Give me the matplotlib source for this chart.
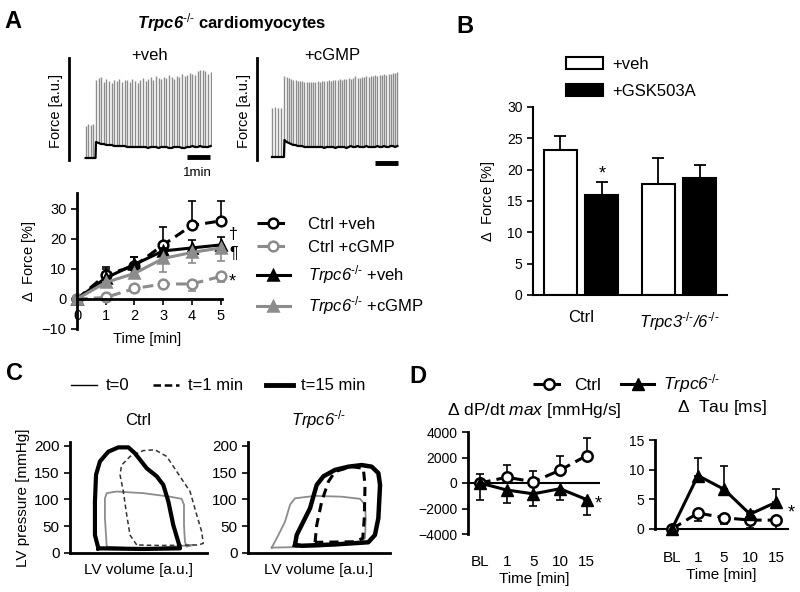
import numpy as np
import matplotlib
matplotlib.use("Agg")
import matplotlib.pyplot as plt
from matplotlib.lines import Line2D
from matplotlib.patches import Patch

plt.rcParams['font.family'] = 'Liberation Sans'
plt.rcParams['mathtext.fontset'] = 'custom'
plt.rcParams['mathtext.rm'] = 'Liberation Sans'
plt.rcParams['mathtext.it'] = 'Liberation Sans:italic'
plt.rcParams['mathtext.sf'] = 'Liberation Sans:italic'
plt.rcParams['mathtext.bf'] = 'Liberation Sans:bold'
plt.rcParams['mathtext.bfit'] = 'Liberation Sans:bold:italic'

GRAY = '#8c8c8c'

# ---- data -------------------------------------------------------------
# A, force traces (a.u.), paced beats
veh_pre_t = [0.04, 0.14, 0.26, 0.36]
veh_pre_peaks = [34, 36, 35, 36]
veh_pre_base = 2
veh_t0, veh_dt = 0.47, 0.113
veh_peaks = [80, 82, 83, 78, 81, 79, 77, 80, 79, 81, 78, 80, 80, 78, 81,
             79, 77, 80, 82, 79, 81, 83, 80, 84, 82, 81, 83, 82, 85, 83,
             81, 84, 83, 86, 84, 85, 87, 86, 85, 89, 90, 90, 89, 86, 88]
veh_base = [18, 17, 16, 16, 15, 15, 15, 14, 14, 14, 14, 14, 13, 13, 13,
            13, 13, 13, 13, 13, 12, 13, 13, 13, 12, 13, 13, 13, 12, 12,
            13, 13, 13, 12, 12, 13, 13, 14, 13, 13, 14, 13, 13, 13, 14]

cgmp_pre_t = [-0.03, 0.08, 0.2, 0.32]
cgmp_pre_peaks = [52, 53, 52, 52]
cgmp_pre_base = 3
cgmp_t0, cgmp_dt = 0.49, 0.096
cgmp_peaks = [84, 83, 82, 81, 80, 80, 79, 79, 79, 78, 78, 78, 78, 78, 78,
              79, 78, 79, 79, 79, 80, 79, 80, 80, 80, 81, 80, 81, 81, 82,
              81, 82, 84, 82, 82, 83, 83, 84, 83, 84, 84, 85, 84, 85, 85,
              86, 85, 86, 86, 87, 87, 88]
cgmp_base = [20, 18, 17, 16, 15, 15, 14, 14, 14, 13, 13, 13, 13, 13, 13,
             13, 13, 13, 12, 13, 13, 13, 13, 12, 13, 13, 13, 13, 12, 13,
             14, 13, 13, 14, 13, 13, 13, 14, 13, 13, 13, 13, 14, 13, 13,
             14, 13, 13, 14, 14, 13, 14]

# A, delta force over time
time_min = [0, 1, 2, 3, 4, 5]
ctrl_veh = [0, 8, 11, 18, 24.5, 26]
ctrl_veh_sem = [0, 2.5, 3, 6, 8, 6.5]
ctrl_cgmp = [0, 0.5, 3.5, 5, 5, 7.5]
ctrl_cgmp_sem = [0, 0.5, 0.5, 1, 2.5, 2]
trpc6_veh = [0, 7, 11.5, 16, 17, 18]
trpc6_veh_sem = [0, 3, 2.5, 1, 2.5, 2.5]
trpc6_cgmp = [0, 5.5, 8.5, 13.5, 15.5, 17]
trpc6_cgmp_sem = [0, 1.5, 1.5, 4.5, 3.5, 4.5]

SUP = r'^{\text{-/-}}'
TRPC6 = r'$\mathsf{Trpc6}' + SUP + '$'

# B
b_groups = ['Ctrl', r'$\mathsf{Trpc3}' + SUP + r'\mathsf{/6}' + SUP + '$']
b_veh = [23.2, 17.7]
b_veh_sem = [2.2, 4.2]
b_gsk = [16.0, 18.7]
b_gsk_sem = [2.1, 2.1]

# C, pressure-volume loops (volume a.u., pressure mmHg)
c_ctrl_t0_v = [26.8, 25.5, 25.5, 26.8, 34, 53.5, 73, 81.5, 83.2, 83.2, 83.9, 85.2, 90, 53.5]
c_ctrl_t0_p = [11.8, 65, 102, 111.6, 114.6, 111.6, 105, 101, 90, 52, 21, 11.8, 15, 7.5]
c_ctrl_t1_v = [48.7, 43.8, 41.4, 38.9, 36.5, 37.7, 43.8, 53.5, 62, 70.6, 77.9, 82.8,
               87.6, 92.5, 96.1, 97.3, 93.7, 65.7]
c_ctrl_t1_p = [15, 33.6, 71, 115, 146, 164, 180, 191, 192.5, 180, 152, 133,
               115, 71, 40, 18, 15, 14]
c_ctrl_t15_v = [20.7, 18.2, 18.2, 19, 21.9, 28, 35.3, 42.6, 47.4, 56, 63.3, 68.1,
                71.8, 75.4, 79, 80.3, 53.5]
c_ctrl_t15_p = [8.7, 33.6, 96, 146, 171, 189, 197, 197, 186, 158, 143, 127,
                96, 52, 21, 8.7, 7.5]

c_trpc_t0_v = [16.7, 21.4, 26.1, 29.6, 33.1, 47.2, 66, 78.9, 82.4, 82.9, 82.4, 77.7, 49.6]
c_trpc_t0_p = [10, 33.6, 58.5, 90, 102, 106.5, 105, 101, 90, 65, 27.5, 18, 12]
c_trpc_t1_v = [47.2, 48.4, 51.9, 56.6, 61.3, 73, 81.2, 82.4, 81.9, 80.8, 75.4, 49.8]
c_trpc_t1_p = [20, 52, 96, 133, 152, 161, 158, 127, 65, 27.5, 21, 20]
c_trpc_t15_v = [33.1, 34.3, 39, 43.7, 46, 48.4, 53.1, 61.3, 70.7, 80.1, 87.1, 91.8,
                93, 91.8, 89.4, 84.7, 61.3, 37.8]
c_trpc_t15_p = [15, 33.6, 58.5, 83.5, 105, 127, 143, 155, 161, 164, 161, 149,
                127, 65, 33.6, 20, 16, 13.5]

# D
d_labels = ['BL', '1', '5', '10', '15']
dpdt_ctrl = [0, 450, 100, 1000, 2150]
dpdt_ctrl_sem = [700, 1000, 850, 1100, 1350]
dpdt_trpc = [0, -550, -850, -450, -1300]
dpdt_trpc_sem = [1300, 1050, 950, 900, 1200]
tau_ctrl = [0, 2.7, 1.9, 1.5, 1.5]
tau_ctrl_sem = [0, 1.4, 1.1, 1.4, 1.5]
tau_trpc = [0, 9.0, 6.7, 2.5, 4.5]
tau_trpc_sem = [0, 2.9, 4.0, 0.5, 2.3]

# ---- figure ------------------------------------------------------------
W, H = 800, 592
fig = plt.figure(figsize=(8, 5.92), dpi=100)


def box(l, t, r, b):
    return [l / W, 1 - b / H, (r - l) / W, (b - t) / H]


def fx(x):
    return x / W


def fy(y):
    return 1 - y / H


for letter, x, y in [('A', 4, 28), ('B', 456, 33), ('C', 6, 380), ('D', 409, 383)]:
    fig.text(fx(x), fy(y), letter, fontsize=17, fontweight='bold', va='baseline')

fig.text(fx(232), fy(28), r'$\mathbfit{Trpc6}^{\text{-/-}}$ cardiomyocytes',
         fontsize=12, fontweight='bold', ha='center', va='baseline')


# ---- A traces ----
def draw_trace(ax, pre_t, pre_peaks, pre_base, t0, dt, peaks, base, bar_y):
    t = t0 + dt * np.arange(len(peaks))
    ax.vlines(pre_t, pre_base, pre_peaks, color=GRAY, lw=1.0)
    ax.vlines(t, base, peaks, color=GRAY, lw=1.0)
    bx = [pre_t[0] - 0.02] + list(pre_t) + [t[0] - 0.02] + list(t)
    by = [pre_base] * (len(pre_t) + 2) + list(base)
    ax.plot(bx, by, color='black', lw=1.6)
    ax.plot([4.43, 5.43], [bar_y, bar_y], color='black', lw=3.5, solid_capstyle='butt')
    ax.set_xlim(-0.7, 5.5)
    ax.set_ylim(-8, 105)
    for s in ['top', 'right', 'bottom']:
        ax.spines[s].set_visible(False)
    ax.spines['left'].set_bounds(0, 102)
    ax.spines['left'].set_linewidth(2)
    ax.set_xticks([])
    ax.set_yticks([])
    ax.set_ylabel('Force [a.u.]', fontsize=10.5, labelpad=4)
    ax.patch.set_alpha(0)


ax1 = fig.add_axes(box(69, 55, 212, 168))
draw_trace(ax1, veh_pre_t, veh_pre_peaks, veh_pre_base, veh_t0, veh_dt,
           veh_peaks, veh_base, 3)
ax2 = fig.add_axes(box(257, 55, 400, 168))
draw_trace(ax2, cgmp_pre_t, cgmp_pre_peaks, cgmp_pre_base, cgmp_t0, cgmp_dt,
           cgmp_peaks, cgmp_base, -3)
fig.text(fx(150), fy(60), '+veh', fontsize=12, ha='center', va='baseline')
fig.text(fx(332), fy(60), '+cGMP', fontsize=12, ha='center', va='baseline')
fig.text(fx(197), fy(176), '1min', fontsize=9.5, ha='center', va='baseline')

# ---- A line chart ----
axa = fig.add_axes(box(77, 193, 222, 329))
series = [
    (ctrl_veh, ctrl_veh_sem, 'up', 'black', '--', 'o', 'white', 'Ctrl +veh'),
    (ctrl_cgmp, ctrl_cgmp_sem, 'down', GRAY, '--', 'o', 'white', 'Ctrl +cGMP'),
    (trpc6_veh, trpc6_veh_sem, 'up', 'black', '-', '^', 'black', TRPC6 + ' +veh'),
    (trpc6_cgmp, trpc6_cgmp_sem, 'down', GRAY, '-', '^', GRAY, TRPC6 + ' +cGMP'),
]
handles = []
for vals, sem, d, col, ls, mk, mfc, lab in series:
    z = np.zeros(len(sem))
    yerr = [z, sem] if d == 'up' else [sem, z]
    axa.errorbar(time_min, vals, yerr=yerr, fmt='none', ecolor=col, elinewidth=1.2,
                 capsize=3, capthick=1.2, clip_on=False)
    ln, = axa.plot(time_min, vals, color=col, ls=ls, lw=2.2, marker=mk, ms=7,
                   mfc=mfc, mec=col, mew=1.8, clip_on=False,
                   dashes=(3.5, 2) if ls == '--' else (None, None))
    handles.append(ln)
axa.set_xlim(0, 5.05)
axa.set_ylim(-10, 35.3)
axa.set_yticks([-10, 0, 10, 20, 30])
axa.set_xticks(time_min)
axa.spines['top'].set_visible(False)
axa.spines['right'].set_visible(False)
axa.spines['bottom'].set_position(('data', 0))
axa.spines['bottom'].set_linewidth(2)
axa.spines['left'].set_linewidth(2)
axa.tick_params(labelsize=10.5, width=1.2, length=4)
axa.set_ylabel(r'$\Delta$  Force [%]', fontsize=10.5, labelpad=3)
axa.set_xlabel('Time [min]', fontsize=10.5)
axa.xaxis.set_label_coords(0.48, -0.02)
axa.text(5.3, 21.5, '\u2020', fontsize=11.5, ha='left', va='center', clip_on=False)
axa.text(5.3, 15.3, '\u00b6', fontsize=11.5, ha='left', va='center', clip_on=False)
axa.text(5.3, 5.5, '*', fontsize=13, ha='left', va='center', clip_on=False)
fig.legend(handles, [s[-1] for s in series], loc='upper left',
           bbox_to_anchor=(fx(250), fy(210)), frameon=False, fontsize=12,
           handlelength=2.0, handletextpad=1.1, labelspacing=0.5, borderaxespad=0)

# ---- B ----
axb = fig.add_axes(box(533, 107, 727, 295))
gx = np.arange(len(b_groups))
off, bw = 0.212, 0.337
axb.bar(gx - off, b_veh, bw, color='white', edgecolor='black', lw=1.5, label='+veh')
axb.bar(gx + off, b_gsk, bw, color='black', edgecolor='black', lw=1.5, label='+GSK503A')
axb.errorbar(gx - off, b_veh, yerr=[np.zeros(2), b_veh_sem], fmt='none', ecolor='black',
             elinewidth=1.3, capsize=4, capthick=1.3)
axb.errorbar(gx + off, b_gsk, yerr=[np.zeros(2), b_gsk_sem], fmt='none', ecolor='black',
             elinewidth=1.3, capsize=4, capthick=1.3)
axb.text(gx[0] + off, 19.3, '*', fontsize=13, ha='center', va='center')
axb.set_xlim(-0.49, 1.49)
axb.set_ylim(0, 30)
axb.set_yticks(range(0, 31, 5))
axb.set_xticks(gx)
axb.set_xticklabels(b_groups, fontsize=12)
axb.tick_params(axis='x', length=0, pad=11)
axb.tick_params(axis='y', labelsize=10, width=1.2, length=4)
for s in ['top', 'right']:
    axb.spines[s].set_visible(False)
axb.spines['left'].set_linewidth(1.5)
axb.spines['bottom'].set_linewidth(1.5)
axb.set_ylabel(r'$\Delta$  Force [%]', fontsize=10.5, labelpad=7)
fig.legend(handles=[Patch(facecolor='white', edgecolor='black', lw=1.5, label='+veh'),
                    Patch(facecolor='black', edgecolor='black', lw=1.5, label='+GSK503A')],
           loc='upper left', bbox_to_anchor=(fx(559), fy(50)), frameon=False,
           fontsize=12, handlelength=2.25, handleheight=0.75, handletextpad=0.55,
           labelspacing=0.72, borderaxespad=0)

# ---- C ----
loops = {
    'Ctrl': [(c_ctrl_t0_v, c_ctrl_t0_p, GRAY, '-', 1.3),
             (c_ctrl_t1_v, c_ctrl_t1_p, '#333333', '--', 1.1),
             (c_ctrl_t15_v, c_ctrl_t15_p, 'black', '-', 3.0)],
    'Trpc6': [(c_trpc_t0_v, c_trpc_t0_p, GRAY, '-', 1.3),
              (c_trpc_t1_v, c_trpc_t1_p, 'black', '--', 2.2),
              (c_trpc_t15_v, c_trpc_t15_p, 'black', '-', 3.2)],
}
for key, (l, r), title in [('Ctrl', (70, 207), 'Ctrl'), ('Trpc6', (248, 390), TRPC6)]:
    ax = fig.add_axes(box(l, 442, r, 553))
    for v, p, col, ls, lw in loops[key]:
        ax.plot(np.r_[v, v[0]], np.r_[p, p[0]], color=col, ls=ls, lw=lw,
                dashes=(3, 2) if ls == '--' else (None, None), solid_joinstyle='round')
    ax.set_xlim(0, 100)
    ax.set_ylim(0, 207)
    ax.set_yticks([0, 50, 100, 150, 200])
    ax.set_xticks([])
    for s in ['top', 'right']:
        ax.spines[s].set_visible(False)
    ax.spines['left'].set_linewidth(2)
    ax.spines['bottom'].set_linewidth(2)
    ax.tick_params(labelsize=11, width=1.2, length=4)
    ax.set_title(title, fontsize=12, pad=12)
    ax.set_xlabel('LV volume [a.u.]', fontsize=11, labelpad=7)
    if key == 'Ctrl':
        ax.set_ylabel('LV pressure [mmHg]', fontsize=11, labelpad=3)

fig.legend(handles=[Line2D([], [], color='black', lw=1),
                    Line2D([], [], color='black', lw=1.8, ls='--', dashes=(3, 1.5)),
                    Line2D([], [], color='black', lw=3.5)],
           labels=['t=0', 't=1 min', 't=15 min'], ncol=3, loc='center left',
           bbox_to_anchor=(fx(64), fy(386)), frameon=False, fontsize=12,
           handlelength=1.6, handletextpad=0.5, columnspacing=1.4, borderaxespad=0)

# ---- D ----
x = np.arange(len(d_labels))


def d_panel(ax, cv, cs, tv, ts, c_dir, t_dir):
    z = np.zeros(len(x))
    ax.errorbar(x, cv, yerr=[z, cs] if c_dir == 'up' else [cs, z], fmt='none',
                ecolor='black', elinewidth=1.2, capsize=3, capthick=1.2, clip_on=False)
    ax.errorbar(x, tv, yerr=[z, ts] if t_dir == 'up' else [ts, z], fmt='none',
                ecolor='black', elinewidth=1.2, capsize=3, capthick=1.2, clip_on=False)
    c, = ax.plot(x, cv, color='black', ls='--', dashes=(3.5, 2), lw=2.2, marker='o',
                 ms=7.5, mfc='white', mec='black', mew=1.8, clip_on=False, zorder=3)
    t, = ax.plot(x, tv, color='black', lw=2.2, marker='^', ms=8, mfc='black',
                 mec='black', clip_on=False, zorder=3)
    ax.set_xticks(x)
    ax.set_xticklabels(d_labels)
    for s in ['top', 'right']:
        ax.spines[s].set_visible(False)
    ax.spines['left'].set_linewidth(2)
    ax.tick_params(axis='y', labelsize=10, width=1.2, length=4)
    ax.tick_params(axis='x', labelsize=11, length=0)
    ax.set_xlabel('Time [min]', fontsize=11, labelpad=2)
    return c, t


axd1 = fig.add_axes(box(468, 432, 600, 534))
hc, ht = d_panel(axd1, dpdt_ctrl, dpdt_ctrl_sem, dpdt_trpc, dpdt_trpc_sem, 'up', 'down')
axd1.set_xlim(-0.45, 4.5)
axd1.set_ylim(-4000, 4000)
axd1.set_yticks([-4000, -2000, 0, 2000, 4000])
axd1.axhline(0, color='black', lw=1.5, zorder=1)
axd1.spines['bottom'].set_visible(False)
axd1.tick_params(axis='x', pad=15)
axd1.text(4.3, -1000, '*', fontsize=13, ha='left', va='top')
axd1.set_title(r'$\Delta$ dP/dt $\mathit{max}$ [mmHg/s]', fontsize=12.5, pad=12)

axd2 = fig.add_axes(box(655, 440, 788, 529))
d_panel(axd2, tau_ctrl, tau_ctrl_sem, tau_trpc, tau_trpc_sem, 'down', 'up')
axd2.set_xlim(-0.65, 4.46)
axd2.set_ylim(0, 15)
axd2.set_yticks([0, 5, 10, 15])
axd2.spines['bottom'].set_linewidth(1.5)
axd2.tick_params(axis='x', pad=16)
axd2.text(4.45, 4.2, '*', fontsize=13, ha='left', va='top', clip_on=False)
axd2.set_title(r'$\Delta$  Tau [ms]', fontsize=12.5, pad=20)

fig.legend([hc, ht], ['Ctrl', TRPC6], ncol=2, loc='center left',
           bbox_to_anchor=(fx(526), fy(384)), frameon=False, fontsize=12.5,
           handlelength=1.85, handletextpad=0.55, columnspacing=1.15, borderaxespad=0)

fig.savefig('out.png', dpi=100)
